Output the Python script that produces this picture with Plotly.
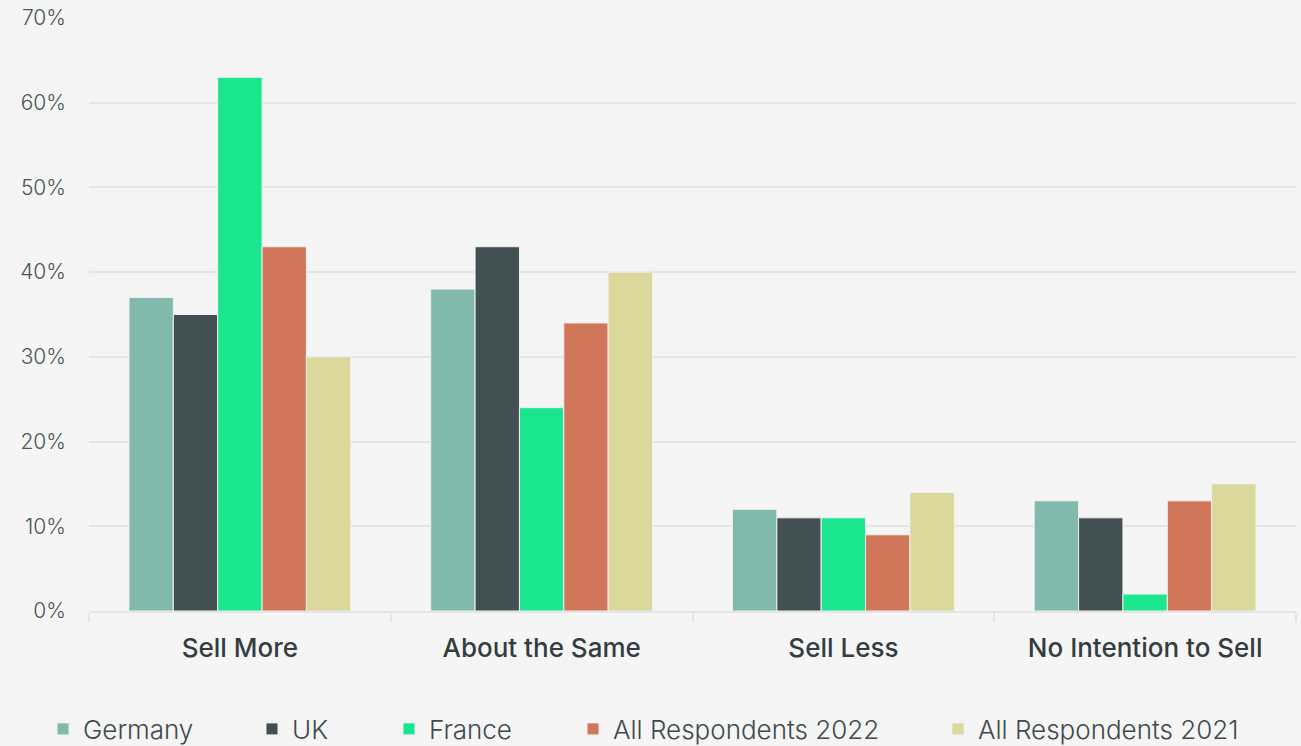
import plotly.graph_objects as go

categories = ["Sell More", "About the Same", "Sell Less", "No Intention to Sell"]
series_names = ["Germany", "UK", "France", "All Respondents 2022", "All Respondents 2021"]
germany = [37, 38, 12, 13]
uk = [35, 43, 11, 11]
france = [63, 24, 11, 2]
all_2022 = [43, 34, 9, 13]
all_2021 = [30, 40, 14, 15]
y_ticks = [0, 10, 20, 30, 40, 50, 60, 70]
y_tick_labels = ["0%", "10%", "20%", "30%", "40%", "50%", "60%", "70%"]

colors = ["#82b9ad", "#424f53", "#19e68f", "#d0775a", "#dbd89b"]
values = [germany, uk, france, all_2022, all_2021]

W, H = 1301, 746
m_l, m_r, m_t, m_b = 89, 5, 18, 135
plot_w = W - m_l - m_r
plot_h = H - m_t - m_b

# legend entries laid out in a row under the chart, one legend per series
legend_px = [43, 252, 389, 573, 938]
legend_center_px = 729

fig = go.Figure()
layout_legends = {}
for i, (name, vals, col) in enumerate(zip(series_names, values, colors)):
    key = "legend" if i == 0 else f"legend{i + 1}"
    fig.add_trace(go.Bar(
        x=categories, y=vals, name=name,
        marker=dict(color=col, line=dict(color="#eef0ef", width=1)),
        legend=key,
    ))
    layout_legends[key] = dict(
        x=(legend_px[i] - m_l) / plot_w,
        y=-(legend_center_px - (H - m_b)) / plot_h,
        xanchor="left", yanchor="middle",
        orientation="h",
        bgcolor="rgba(0,0,0,0)",
        font=dict(family="Inter, sans-serif", size=26, color="#3e4a4c", weight=300),
        itemwidth=30,
    )

fig.update_layout(
    width=W, height=H,
    margin=dict(l=m_l, r=m_r, t=m_t, b=m_b, autoexpand=False),
    paper_bgcolor="#f5f5f5",
    plot_bgcolor="#f5f5f5",
    barmode="group",
    bargap=0.265,
    bargroupgap=0,
    showlegend=True,
    **layout_legends,
)

fig.update_xaxes(
    tickson="boundaries",
    ticks="outside",
    ticklen=9,
    tickwidth=2,
    tickcolor="#e3e6e5",
    showline=True,
    linecolor="#e3e6e5",
    linewidth=2,
    showgrid=False,
    ticklabelstandoff=13,
    tickfont=dict(family="Inter, sans-serif", size=26, color="#333d3f", weight=500),
)

fig.update_yaxes(
    range=[0, 70],
    tickvals=y_ticks,
    ticktext=y_tick_labels,
    showgrid=True,
    gridcolor="#e3e6e5",
    gridwidth=2,
    zeroline=False,
    ticks="",
    ticklabelstandoff=22,
    tickfont=dict(family="Inter, sans-serif", size=21, color="#4a5656", weight=300),
)

fig.write_html("out.html")
